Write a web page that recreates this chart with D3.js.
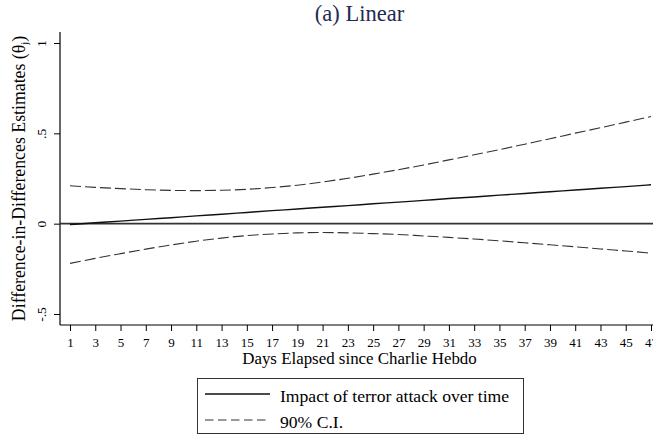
<!DOCTYPE html>
<html>
<head>
<meta charset="utf-8">
<script src="https://cdn.jsdelivr.net/npm/d3@7/dist/d3.min.js"></script>
<style>
  html, body { margin: 0; padding: 0; background: #fff; }
  svg { display: block; }
</style>
</head>
<body>
<svg id="chart" width="653" height="440"></svg>
<script>
// Days since the attack (odd days) and the estimated effect with its 90% band
const days = [1, 3, 5, 7, 9, 11, 13, 15, 17, 19, 21, 23, 25, 27, 29, 31, 33, 35, 37, 39, 41, 43, 45, 47];
const estimate = [-0.005, 0.005, 0.014, 0.024, 0.033, 0.043, 0.052, 0.062, 0.072, 0.081, 0.091, 0.100,
                  0.110, 0.119, 0.129, 0.139, 0.148, 0.158, 0.167, 0.177, 0.186, 0.196, 0.205, 0.215];
const upperCI = [0.210, 0.201, 0.194, 0.188, 0.184, 0.183, 0.185, 0.190, 0.200, 0.213, 0.231, 0.251,
                 0.274, 0.299, 0.325, 0.353, 0.381, 0.410, 0.440, 0.470, 0.501, 0.531, 0.562, 0.593];
const lowerCI = [-0.220, -0.192, -0.166, -0.141, -0.118, -0.097, -0.080, -0.066, -0.057, -0.051, -0.049, -0.051,
                 -0.055, -0.060, -0.068, -0.076, -0.085, -0.095, -0.106, -0.117, -0.128, -0.140, -0.151, -0.163];
const xTicks = days;
const yTicks = [-0.5, 0, 0.5, 1];
const yTickLabels = ["-.5", "0", ".5", "1"];
const legendLabels = ["Impact of terror attack over time", "90% C.I."];

const FONT = "Liberation Serif";
const svg = d3.select("#chart");
const plot = { left: 60, right: 653, top: 32, bottom: 325 };

const x = d3.scaleLinear().domain([1, 47]).range([70, 651]);
const y = d3.scaleLinear().domain([-0.5, 1]).range([314, 43]);

// Title
svg.append("text")
  .attr("x", 359.5).attr("y", 21)
  .attr("text-anchor", "middle")
  .attr("font-family", FONT)
  .attr("font-size", 22.5)
  .attr("fill", "#1f2b52")
  .text("(a) Linear");

// Y axis
const yAxis = svg.append("g")
  .attr("transform", `translate(${plot.left},0)`)
  .call(d3.axisLeft(y).tickValues(yTicks).tickSize(6).tickFormat((d, i) => yTickLabels[i]));
yAxis.attr("font-family", FONT);
yAxis.select(".domain").attr("d", `M0,${plot.top}V${plot.bottom}`).attr("stroke", "#000").attr("stroke-width", 1.2);
yAxis.selectAll(".tick line").attr("stroke", "#000");
yAxis.selectAll(".tick text")
  .attr("font-size", 13.5)
  .attr("fill", "#000")
  .attr("x", null).attr("dy", null)
  .attr("text-anchor", "middle")
  .attr("transform", "translate(-14,0) rotate(-90)")
  .attr("y", 0);

// X axis
const xAxis = svg.append("g")
  .attr("transform", `translate(0,${plot.bottom})`)
  .call(d3.axisBottom(x).tickValues(xTicks).tickSize(6).tickFormat(d3.format("d")));
xAxis.attr("font-family", FONT);
xAxis.select(".domain").attr("d", `M${plot.left},0H${plot.right}`).attr("stroke", "#000").attr("stroke-width", 1.2);
xAxis.selectAll(".tick line").attr("stroke", "#000");
xAxis.selectAll(".tick text")
  .attr("font-size", 13)
  .attr("fill", "#000")
  .attr("y", 12.5);

// Axis titles
const yTitle = svg.append("text")
  .attr("transform", `translate(25,${(plot.top + plot.bottom) / 2}) rotate(-90)`)
  .attr("text-anchor", "middle")
  .attr("font-family", FONT)
  .attr("font-size", 17.8)
  .attr("fill", "#000");
yTitle.append("tspan").text("Difference-in-Differences Estimates (θ");
yTitle.append("tspan").attr("font-size", 10.5).attr("dy", 3).text("j");
yTitle.append("tspan").attr("dy", -3).text(")");

svg.append("text")
  .attr("x", 359.5).attr("y", 364)
  .attr("text-anchor", "middle")
  .attr("font-family", FONT)
  .attr("font-size", 16.9)
  .attr("fill", "#000")
  .text("Days Elapsed since Charlie Hebdo");

// Zero reference line
svg.append("line")
  .attr("x1", plot.left).attr("x2", plot.right)
  .attr("y1", y(0)).attr("y2", y(0))
  .attr("stroke", "#333").attr("stroke-width", 1.6);

const line = (vals) => d3.line()
  .x((d, i) => x(days[i]))
  .y(d => y(d))
  .curve(d3.curveMonotoneX)(vals);

// Confidence band
[upperCI, lowerCI].forEach(vals => {
  svg.append("path")
    .attr("d", line(vals))
    .attr("fill", "none")
    .attr("stroke", "#333")
    .attr("stroke-width", 1.1)
    .attr("stroke-dasharray", "11,4");
});

// Point estimate
svg.append("path")
  .attr("d", line(estimate))
  .attr("fill", "none")
  .attr("stroke", "#111")
  .attr("stroke-width", 1.4);

// Legend
const legend = svg.append("g").attr("font-family", FONT);
legend.append("rect")
  .attr("x", 197.5).attr("y", 378.5).attr("width", 326).attr("height", 55)
  .attr("fill", "#fff").attr("stroke", "#333").attr("stroke-width", 1);
const rows = [{ y: 394, dash: null, w: 1.4, c: "#111" }, { y: 420, dash: "8.5,4.5", w: 1.1, c: "#333" }];
rows.forEach((r, i) => {
  legend.append("line")
    .attr("x1", 205).attr("x2", 270)
    .attr("y1", r.y).attr("y2", r.y)
    .attr("stroke", r.c).attr("stroke-width", r.w)
    .attr("stroke-dasharray", r.dash);
  legend.append("text")
    .attr("x", 280).attr("y", r.y + 7.5)
    .attr("font-size", 17.6)
    .attr("fill", "#000")
    .text(legendLabels[i]);
});
</script>
</body>
</html>
